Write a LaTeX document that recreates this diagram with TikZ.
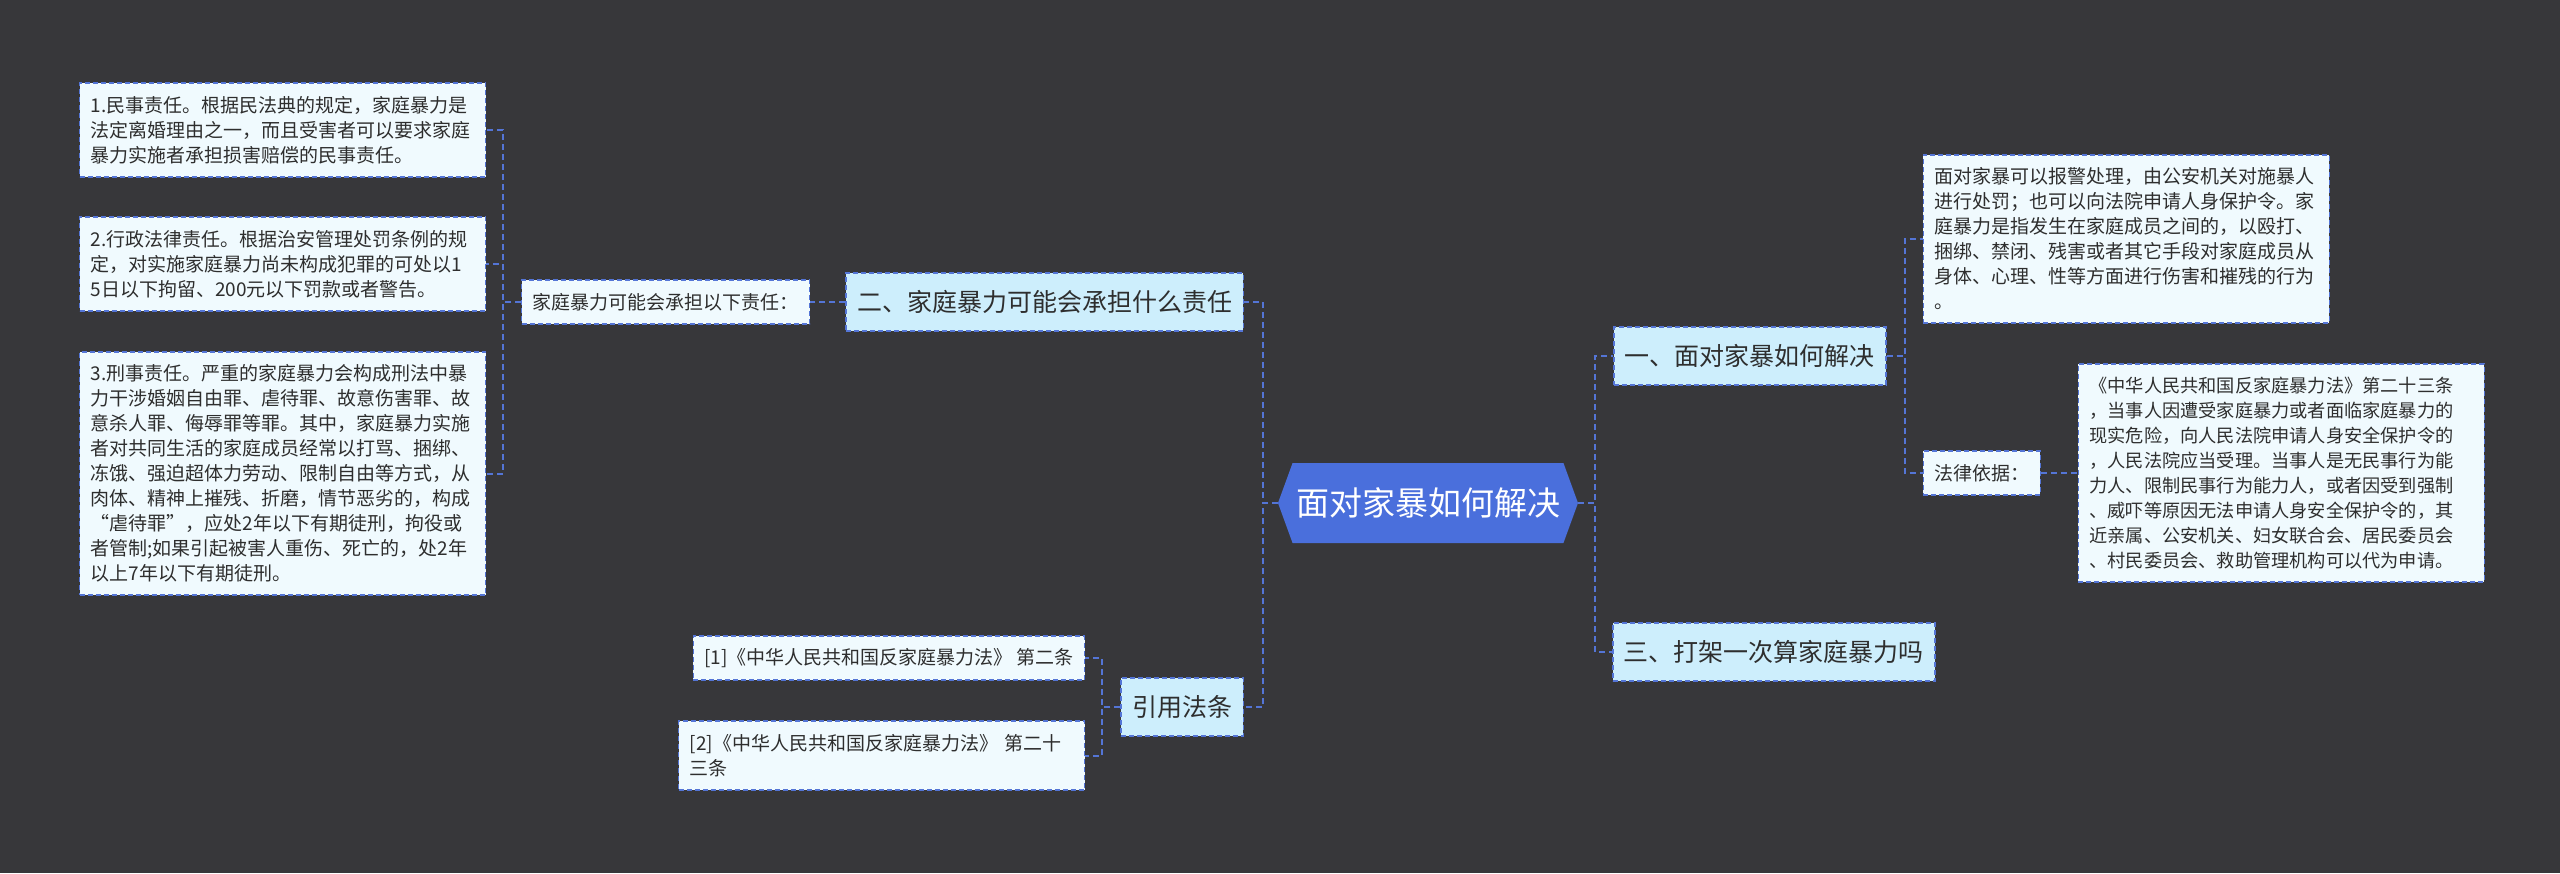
\documentclass[tikz,border=0pt]{standalone}
\usepackage{fontspec}
\setmainfont{Noto Sans CJK SC}
\usetikzlibrary{shapes.symbols, positioning}
\definecolor{mapBg}{HTML}{37373A}
\definecolor{mapRoot}{HTML}{4A6FDC}
\definecolor{mapTopic}{HTML}{CDEEFC}
\definecolor{mapCard}{HTML}{F0FAFE}
\definecolor{mapLine}{HTML}{5475D6}
\definecolor{mapInk}{HTML}{2E2E2E}

\begin{document}
\begin{tikzpicture}[font=\fontsize{19}{25}\selectfont,
        hub/.style={signal, signal to=west and east, signal pointer angle=140, fill=mapRoot, text=white, minimum width=300pt, minimum height=80pt, inner sep=0pt, font=\fontsize{33}{40}\selectfont},
        topic/.style={draw=mapLine, line width=1.3pt, dash pattern=on 5pt off 3pt, fill=mapTopic, text=mapInk, inner xsep=11pt, inner ysep=0pt, minimum height=58pt, font=\fontsize{25}{30}\selectfont},
        card/.style={draw=mapLine, line width=1.3pt, dash pattern=on 5pt off 3pt, fill=mapCard, text=mapInk, align=left, inner xsep=11pt, inner ysep=0pt, minimum height=44pt},
        para/.style={card, text width=384pt},
        link/.style={mapLine, line width=2pt, dash pattern=on 6pt off 4pt}]
        \fill[mapBg] (0,0) rectangle (2560pt,-873pt);
        \node[hub] (root) at (1428pt,-503pt) {面对家暴如何解决};
        % left half
        \node[topic, left=34pt of root, yshift=201pt] (resp) {二、家庭暴力可能会承担什么责任};
        \node[topic, left=34pt of root, yshift=-204pt] (cite) {引用法条};
        \node[card, left=35pt of resp] (duty) {家庭暴力可能会承担以下责任：};
        \node[para, left=35pt of duty, yshift=172pt, minimum height=94pt] (civil) {1.民事责任。根据民法典的规定，家庭暴力是\\法定离婚理由之一，而且受害者可以要求家庭\\暴力实施者承担损害赔偿的民事责任。};
        \node[para, left=35pt of duty, yshift=38pt, minimum height=94pt] (admin) {2.行政法律责任。根据治安管理处罚条例的规\\定，对实施家庭暴力尚未构成犯罪的可处以1\\5日以下拘留、200元以下罚款或者警告。};
        \node[para, left=35pt of duty, yshift=-171.5pt, minimum height=243pt] (crime) {3.刑事责任。严重的家庭暴力会构成刑法中暴\\力干涉婚姻自由罪、虐待罪、故意伤害罪、故\\意杀人罪、侮辱罪等罪。其中，家庭暴力实施\\者对共同生活的家庭成员经常以打骂、捆绑、\\冻饿、强迫超体力劳动、限制自由等方式，从\\肉体、精神上摧残、折磨，情节恶劣的，构成\\“虐待罪”，应处2年以下有期徒刑，拘役或\\者管制;如果引起被害人重伤、死亡的，处2年\\以上7年以下有期徒刑。};
        \node[card, left=35pt of cite, yshift=49pt] (ref1) {[1]《中华人民共和国反家庭暴力法》 第二条};
        \node[para, left=35pt of cite, yshift=-48.5pt, minimum height=69pt] (ref2) {[2]《中华人民共和国反家庭暴力法》 第二十\\三条};
        % right half
        \node[topic, right=35pt of root, yshift=147pt] (how) {一、面对家暴如何解决};
        \node[topic, right=34pt of root, yshift=-149pt] (fight) {三、打架一次算家庭暴力吗};
        \node[para, right=36pt of how, yshift=117pt, minimum height=168pt] (report) {面对家暴可以报警处理，由公安机关对施暴人\\进行处罚；也可以向法院申请人身保护令。家\\庭暴力是指发生在家庭成员之间的，以殴打、\\捆绑、禁闭、残害或者其它手段对家庭成员从\\身体、心理、性等方面进行伤害和摧残的行为\\。};
        \node[card, right=36pt of how, yshift=-117pt] (basis) {法律依据：};
        \node[para, right=37pt of basis, minimum height=218pt, font=\fontsize{18.2}{25}\selectfont] (law) {《中华人民共和国反家庭暴力法》第二十三条\\，当事人因遭受家庭暴力或者面临家庭暴力的\\现实危险，向人民法院申请人身安全保护令的\\，人民法院应当受理。当事人是无民事行为能\\力人、限制民事行为能力人，或者因受到强制\\、威吓等原因无法申请人身安全保护令的，其\\近亲属、公安机关、妇女联合会、居民委员会\\、村民委员会、救助管理机构可以代为申请。};
        % connectors
        \draw[link] (root.west) -- ++(-15pt,0) |- (resp.east);
        \draw[link] (root.west) -- ++(-15pt,0) |- (cite.east);
        \draw[link] (root.east) -- ++(17pt,0) |- (how.west);
        \draw[link] (root.east) -- ++(17pt,0) |- (fight.west);
        \draw[link] (resp.west) -- (duty.east);
        \draw[link] (duty.west) -- ++(-18pt,0) |- (civil.east);
        \draw[link] (duty.west) -- ++(-18pt,0) |- (admin.east);
        \draw[link] (duty.west) -- ++(-18pt,0) |- (crime.east);
        \draw[link] (cite.west) -- ++(-18pt,0) |- (ref1.east);
        \draw[link] (cite.west) -- ++(-18pt,0) |- (ref2.east);
        \draw[link] (how.east) -- ++(18pt,0) |- (report.west);
        \draw[link] (how.east) -- ++(18pt,0) |- (basis.west);
        \draw[link] (basis.east) -- (law.west);
      \end{tikzpicture}
\end{document}
